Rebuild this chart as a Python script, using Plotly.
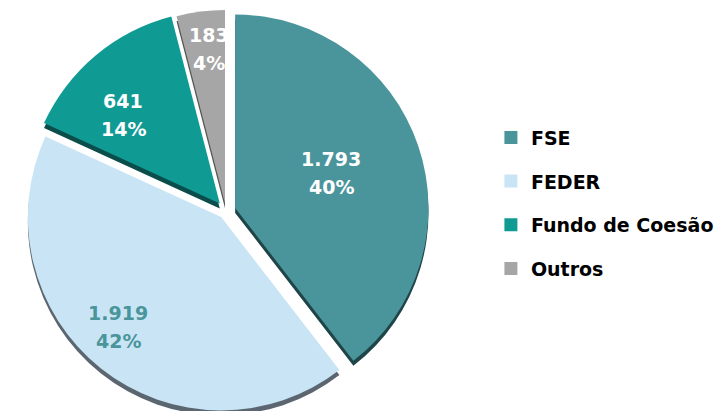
import plotly.graph_objects as go

labels = ["FSE", "FEDER", "Fundo de Coesão", "Outros"]
values = [1793, 1919, 641, 183]
colors = ["#4A959B", "#C9E5F5", "#0F9A94", "#A6A6A6"]
shadow_colors = ["#1F4549", "#5B6670", "#0B4D4A", "#555555"]
text_colors = ["white", "#4A959B", "white", "white"]
pulls = [0.05, 0.04, 0.05, 0.04]
# label anchor positions (pixels in the 724x411 canvas): value line; percent line is 28px lower
label_x = [323, 110, 115, 201]
label_y = [151, 305, 93, 27]

W, H = 724, 411
FONT = "DejaVu Sans"
cx = 218
d = 5
side = H - d
dom_x = [(cx - side / 2) / W, (cx + side / 2) / W]

fig = go.Figure()
# shadow (3D edge)
fig.add_trace(go.Pie(
    labels=labels, values=values, sort=False, direction="clockwise", rotation=0,
    pull=pulls, marker=dict(colors=shadow_colors, line=dict(width=0)),
    textinfo="none", hoverinfo="skip", showlegend=False,
    domain=dict(x=dom_x, y=[0, 1 - d / H]),
))
fig.add_trace(go.Pie(
    labels=labels, values=values, sort=False, direction="clockwise", rotation=0,
    pull=pulls, marker=dict(colors=colors, line=dict(width=0)),
    textinfo="none", showlegend=False,
    domain=dict(x=dom_x, y=[d / H, 1]),
))
for lab, col in zip(labels, colors):
    fig.add_trace(go.Scatter(
        x=[None], y=[None], mode="markers", name=lab, legendgroup=lab,
        marker=dict(symbol="square", size=13, color=col),
    ))

total = sum(values)
for v, tc, lx, ly in zip(values, text_colors, label_x, label_y):
    vt = f"{v:,}".replace(",", ".")
    pt = f"{round(100 * v / total)}%"
    for t, yy in ((vt, ly), (pt, ly + 28)):
        fig.add_annotation(
            text=t, x=lx / W, y=1 - yy / H, xref="paper", yref="paper",
            xanchor="center", yanchor="middle", showarrow=False,
            font=dict(family=FONT, size=19, color=tc, weight="bold"),
        )

fig.update_layout(
    width=W, height=H, margin=dict(l=0, r=0, t=0, b=0),
    paper_bgcolor="white", plot_bgcolor="white",
    separators=",.",
    xaxis=dict(visible=False), yaxis=dict(visible=False),
    legend=dict(x=0.667, y=0.731, xanchor="left", yanchor="top",
                font=dict(size=19, family=FONT, color="black", weight="bold"),
                tracegroupgap=16, itemsizing="trace"),
)
fig.write_html("out.html")
